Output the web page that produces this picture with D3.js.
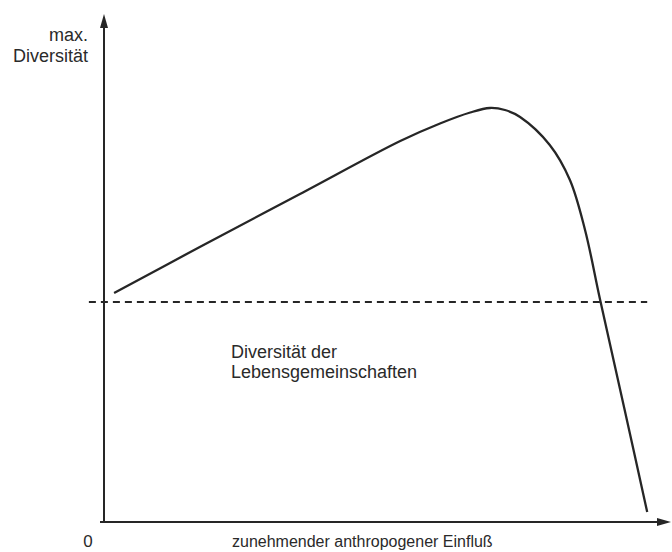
<!DOCTYPE html>
<html>
<head>
<meta charset="utf-8">
<script src="https://cdn.jsdelivr.net/npm/d3@7"></script>
<style>
body { margin: 0; background: #fff; }
text { font-family: "Liberation Sans", Arial, sans-serif; fill: #2a2a2a; }
</style>
</head>
<body>
<div id="content"></div>
<script>
// curve (influence 0..100, diversity 0..100)
var influence = [1.8, 17.1, 35.0, 52.9, 60.0, 65.4, 68.9, 71.6, 74.3, 79.6, 83.2, 85.9, 88.6, 92.9, 97.0];
var diversity = [45.8, 55.0, 65.6, 76.2, 79.7, 81.9, 82.8, 82.4, 81.0, 75.4, 68.4, 58.4, 44.4, 22.8, 2.0];

var baseLevel = 44.0;           // dashed line
var baseExtent = [-2.7, 97];

var yLabel = ['max.', 'Diversität'];
var innerLabel = ['Diversität der', 'Lebensgemeinschaften'];
var xLabel = 'zunehmender anthropogener Einfluß';
var originLabel = '0';

var W = 672, H = 552;
var ink = '#262626';

var svg = d3.select('#content').append('svg').attr('width', W).attr('height', H);

var x = d3.scaleLinear().domain([0, 100]).range([104, 664]);
var y = d3.scaleLinear().domain([0, 100]).range([522, 22]);

// axes
svg.append('line')
	.attr('x1', x(0)).attr('y1', y(0))
	.attr('x2', x(0)).attr('y2', 24)
	.attr('stroke', ink).attr('stroke-width', 2);
svg.append('path')
	.attr('d', 'M' + (x(0) - 4) + ',28 L' + x(0) + ',14 L' + (x(0) + 4) + ',28 Z')
	.attr('fill', ink);

svg.append('line')
	.attr('x1', x(0) - 4).attr('y1', y(0))
	.attr('x2', 660).attr('y2', y(0))
	.attr('stroke', ink).attr('stroke-width', 2);
svg.append('path')
	.attr('d', 'M657,' + (y(0) - 4) + ' L671,' + y(0) + ' L657,' + (y(0) + 4) + ' Z')
	.attr('fill', ink);

// dashed reference level
svg.append('line')
	.attr('x1', x(baseExtent[0])).attr('x2', x(baseExtent[1]))
	.attr('y1', y(baseLevel)).attr('y2', y(baseLevel))
	.attr('stroke', ink).attr('stroke-width', 1.8)
	.attr('stroke-dasharray', '7,5');

// diversity curve
var pts = influence.map((v, i) => [v, diversity[i]]);
var line = d3.line()
	.x(d => x(d[0]))
	.y(d => y(d[1]))
	.curve(d3.curveCatmullRom.alpha(0.5));

svg.append('path')
	.attr('d', line(pts))
	.attr('fill', 'none')
	.attr('stroke', ink)
	.attr('stroke-width', 2.3);

// labels
svg.selectAll('.ylab').data(yLabel).enter().append('text')
	.attr('x', 88)
	.attr('y', (d, i) => 41 + i * 21)
	.attr('text-anchor', 'end')
	.attr('font-size', 18)
	.text(d => d);

svg.selectAll('.inlab').data(innerLabel).enter().append('text')
	.attr('x', 231)
	.attr('y', (d, i) => 358 + i * 20)
	.attr('font-size', 18)
	.text(d => d);

svg.append('text')
	.attr('x', 88).attr('y', 547)
	.attr('text-anchor', 'middle')
	.attr('font-size', 17)
	.text(originLabel);

svg.append('text')
	.attr('x', 232).attr('y', 547)
	.attr('font-size', 16)
	.text(xLabel);
</script>
</body>
</html>
